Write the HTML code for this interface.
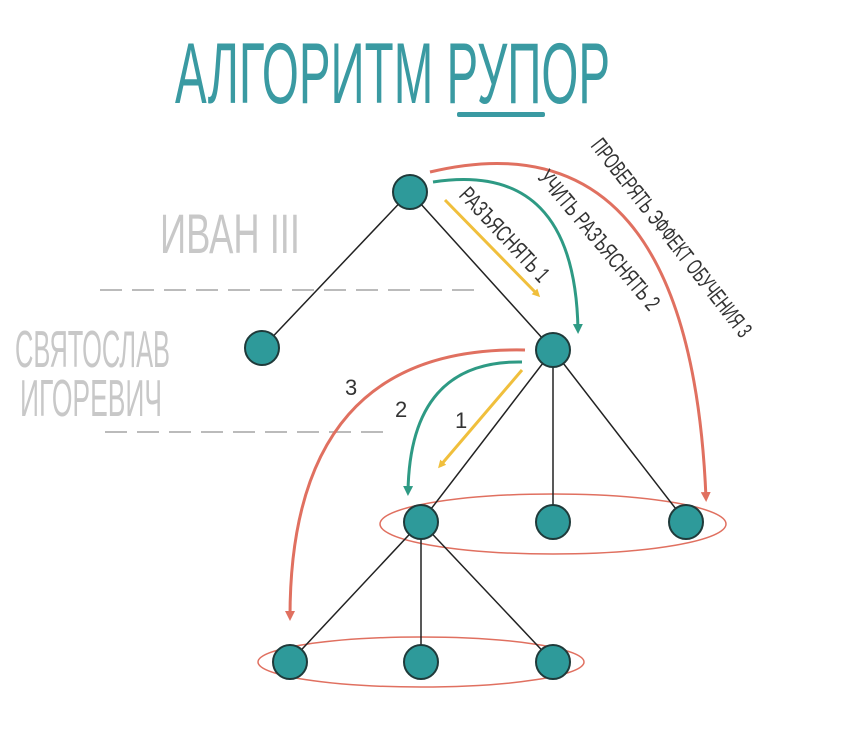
<!DOCTYPE html>
<html><head><meta charset="utf-8"><style>
body{margin:0;background:#fff;width:860px;height:730px;overflow:hidden}
text{font-family:"Liberation Sans Narrow","Liberation Sans","DejaVu Sans Condensed",sans-serif}
</style></head><body>
<svg width="860" height="730" viewBox="0 0 860 730" xmlns="http://www.w3.org/2000/svg">
<defs>
<marker id="ay" markerWidth="8" markerHeight="8" refX="5" refY="4" orient="auto" markerUnits="userSpaceOnUse"><path d="M0,0 L8,4 L0,8z" fill="#f0bf3c"/></marker>
<marker id="ag" markerWidth="10" markerHeight="10" refX="6" refY="5" orient="auto" markerUnits="userSpaceOnUse"><path d="M0,0 L10,5 L0,10z" fill="#2e9a84"/></marker>
<marker id="ar" markerWidth="10" markerHeight="10" refX="6" refY="5" orient="auto" markerUnits="userSpaceOnUse"><path d="M0,0 L10,5 L0,10z" fill="#e07060"/></marker>
</defs>
<text x="175" y="103" font-size="86" fill="#3a9aa2" textLength="435" lengthAdjust="spacingAndGlyphs">АЛГОРИТМ РУПОР</text>
<rect x="457" y="112" width="88" height="5" rx="2" fill="#3a9aa2"/>
<text x="160" y="253" font-size="56" fill="#c8c8c8" textLength="140" lengthAdjust="spacingAndGlyphs">ИВАН III</text>
<text x="15" y="367" font-size="52" fill="#c8c8c8" textLength="155" lengthAdjust="spacingAndGlyphs">СВЯТОСЛАВ</text>
<text x="20" y="416" font-size="52" fill="#c8c8c8" textLength="142" lengthAdjust="spacingAndGlyphs">ИГОРЕВИЧ</text>
<line x1="100" y1="290" x2="480" y2="290" stroke="#bbb" stroke-width="2" stroke-dasharray="22,10"/>
<line x1="105" y1="432" x2="385" y2="432" stroke="#bbb" stroke-width="2" stroke-dasharray="22,10"/>
<ellipse cx="553" cy="524" rx="173" ry="30" fill="none" stroke="#e07060" stroke-width="1.5"/>
<ellipse cx="421" cy="662" rx="163" ry="25" fill="none" stroke="#e07060" stroke-width="1.5"/>
<g stroke="#222" stroke-width="1.5">
<line x1="410" y1="192" x2="262" y2="348"/><line x1="410" y1="192" x2="553" y2="350"/>
<line x1="553" y1="350" x2="421" y2="522"/><line x1="553" y1="350" x2="553" y2="522"/><line x1="553" y1="350" x2="686" y2="522"/>
<line x1="421" y1="522" x2="290" y2="662"/><line x1="421" y1="522" x2="421" y2="662"/><line x1="421" y1="522" x2="553" y2="662"/>
</g>
<g fill="none" stroke-width="3">
<line x1="445" y1="200" x2="538" y2="295" stroke="#f0bf3c" marker-end="url(#ay)"/>
<path d="M433,182 Q575,160 578,330" stroke="#2e9a84" marker-end="url(#ag)"/>
<path d="M430,172 Q690,110 706,498" stroke="#e07060" marker-end="url(#ar)"/>
<line x1="522" y1="370" x2="440" y2="466" stroke="#f0bf3c" marker-end="url(#ay)"/>
<path d="M522,362 Q410,360 408,492" stroke="#2e9a84" marker-end="url(#ag)"/>
<path d="M525,350 Q290,345 290,617" stroke="#e07060" marker-end="url(#ar)"/>
</g>
<g fill="#2e9a9a" stroke="#1f3a3a" stroke-width="2">
<circle cx="410" cy="192" r="17"/><circle cx="262" cy="348" r="17"/><circle cx="553" cy="350" r="17"/>
<circle cx="421" cy="522" r="17"/><circle cx="553" cy="522" r="17"/><circle cx="686" cy="522" r="17"/>
<circle cx="290" cy="662" r="17"/><circle cx="421" cy="662" r="17"/><circle cx="553" cy="662" r="17"/>
</g>
<g fill="#333" font-size="23">
<text transform="translate(458,196) rotate(47)" textLength="120" lengthAdjust="spacingAndGlyphs">РАЗЪЯСНЯТЬ 1</text>
<text transform="translate(537,178) rotate(50)" textLength="175" lengthAdjust="spacingAndGlyphs">УЧИТЬ РАЗЪЯСНЯТЬ 2</text>
<text transform="translate(590,146) rotate(52)" textLength="245" lengthAdjust="spacingAndGlyphs">ПРОВЕРЯТЬ ЭФФЕКТ ОБУЧЕНИЯ 3</text>
<text x="345" y="395" font-size="22">3</text>
<text x="395" y="417" font-size="22">2</text>
<text x="455" y="428" font-size="22">1</text>
</g>
</svg>
</body></html>
